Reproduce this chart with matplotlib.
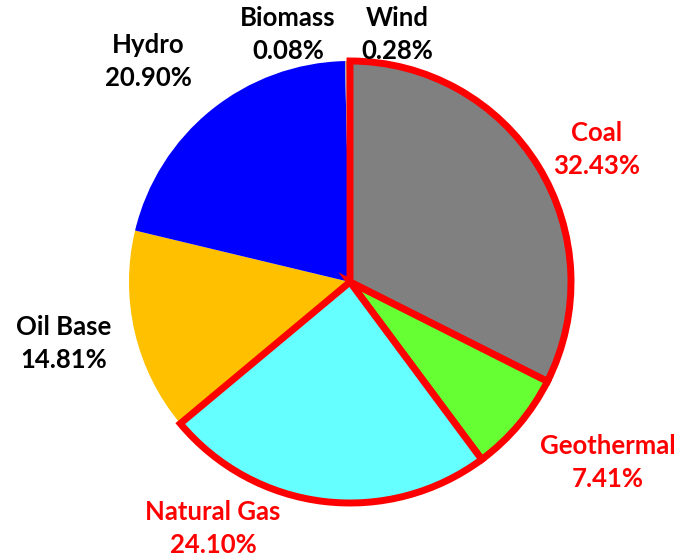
import matplotlib
matplotlib.use("Agg")
import matplotlib.pyplot as plt

labels = ["Coal", "Geothermal", "Natural Gas", "Oil Base", "Hydro", "Biomass", "Wind"]
values = [32.43, 7.41, 24.10, 14.81, 20.90, 0.08, 0.28]
colors = ["#808080", "#66FF33", "#66FFFF", "#FFC000", "#0000FF", "#A5A5A5", "#ED7D31"]
highlight = ["Coal", "Geothermal", "Natural Gas"]

fig = plt.figure(figsize=(6.82, 5.58), dpi=100)
ax = fig.add_axes([0, 0, 1, 1])

cx, cy, r = 350, 558 - 282, 221
wedges, _ = ax.pie(values, colors=colors, startangle=90, counterclock=False,
                   center=(cx, cy), radius=r, frame=True)
ax.set_xlim(0, 682)
ax.set_ylim(0, 558)
ax.set_aspect("equal")
ax.axis("off")
for w, lab in zip(wedges, labels):
    w.set_linewidth(0)
    if lab in highlight:
        w.set_edgecolor("red")
        w.set_linewidth(5)
        w.set_zorder(5)
        w.set_joinstyle("miter")

label_pos = {
    "Hydro": (148, 45),
    "Biomass": (288, 18),
    "Wind": (397, 18),
    "Coal": (597, 133),
    "Geothermal": (608, 446),
    "Natural Gas": (213, 512),
    "Oil Base": (64, 327),
}
for lab, v in zip(labels, values):
    x, y = label_pos[lab]
    col = "red" if lab in highlight else "black"
    ax.text(x, 558 - y, lab, ha="center", va="center", fontsize=18.5,
            fontweight="bold", family="Lato", color=col, zorder=10)
    ax.text(x, 558 - y - 33, f"{v:.2f}%", ha="center", va="center", fontsize=18.5,
            fontweight="bold", family="Lato", color=col, zorder=10)

fig.savefig("out.png", dpi=100)
